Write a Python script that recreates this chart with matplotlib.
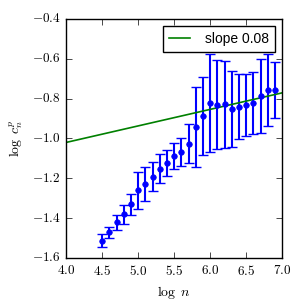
import matplotlib
matplotlib.use('Agg')
import matplotlib.pyplot as plt
from matplotlib.ticker import FuncFormatter
import numpy as np

plt.style.use('classic')
plt.rcParams['mathtext.fontset'] = 'cm'

# data
log_n = [4.5, 4.6, 4.7, 4.8, 4.9, 5.0, 5.1, 5.2, 5.3, 5.4, 5.5, 5.6, 5.7, 5.8,
         5.9, 6.0, 6.1, 6.2, 6.3, 6.4, 6.5, 6.6, 6.7, 6.8, 6.9]
log_c = [-1.513, -1.471, -1.421, -1.381, -1.330, -1.260, -1.227, -1.192, -1.153,
         -1.123, -1.088, -1.068, -1.026, -0.941, -0.885, -0.822, -0.830, -0.828,
         -0.853, -0.840, -0.833, -0.823, -0.788, -0.756, -0.756]
err = [0.032, 0.028, 0.038, 0.046, 0.052, 0.092, 0.086, 0.074, 0.073, 0.065,
       0.067, 0.072, 0.099, 0.200, 0.196, 0.245, 0.225, 0.218, 0.190, 0.164,
       0.157, 0.157, 0.186, 0.180, 0.139]

slope = 0.083
intercept = -1.352
fit_x = [4.0, 7.0]

fig = plt.figure(figsize=(3.06, 3.06), dpi=100)
fig.patch.set_facecolor('white')
ax = fig.add_axes([0.216, 0.157, 0.706, 0.781])

ax.errorbar(log_n, log_c, yerr=err, fmt='o', color='b', mec='b', ms=4,
            capsize=3.5, elinewidth=1.5, capthick=1.0)
fx = np.array(fit_x)
ax.plot(fx, slope * fx + intercept, color='g', lw=1.2, label='slope 0.08')

ax.set_xlim(4.0, 7.0)
ax.set_ylim(-1.6, -0.4)
ax.set_xticks(np.arange(4.0, 7.01, 0.5))
ax.set_yticks(np.arange(-1.6, -0.39, 0.2))
fmt = FuncFormatter(lambda v, p: r'$%.1f$' % v)
ax.xaxis.set_major_formatter(fmt)
ax.yaxis.set_major_formatter(fmt)
ax.tick_params(labelsize=9.5)
ax.set_xlabel(r'$\log\ n$', fontsize=10)
ax.set_ylabel(r'$\log\ c_n^p$', fontsize=10)

leg = ax.legend(loc='upper right', numpoints=1, handlelength=1.5,
                handletextpad=1.1, borderpad=0.45,
                prop={'family': 'Liberation Sans', 'size': 10},
                borderaxespad=0.5)

fig.savefig('out.png', dpi=100, facecolor='white')
